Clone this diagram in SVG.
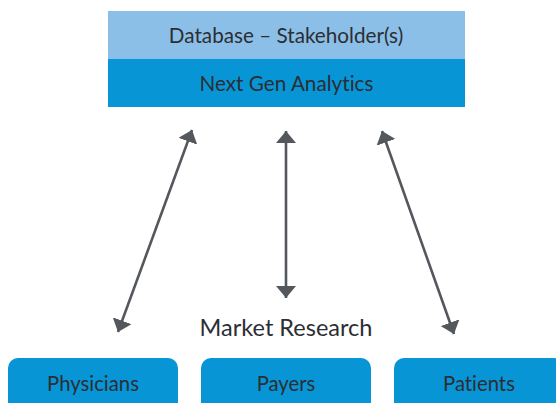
<svg xmlns="http://www.w3.org/2000/svg" width="556" height="403" viewBox="0 0 556 403">
  <style>
    .label { font-family: Lato, "Open Sans", "Liberation Sans", sans-serif; fill: #2b2e33; text-anchor: middle; font-variant-ligatures: none; font-feature-settings: "liga" 0, "clig" 0; }
    .head-light { fill: #8bbfe8; }
    .head-dark { fill: #0795d6; }
    .group-box { fill: #0795d6; }
    .link { stroke: #54585c; stroke-width: 2.6; fill: none; }
  </style>
  <defs>
    <marker id="arrow" viewBox="0 0 12 20" refX="12" refY="10" markerWidth="12" markerHeight="20" markerUnits="userSpaceOnUse" orient="auto-start-reverse">
      <path d="M0,0 L12,10 L0,20 Z" fill="#54585c"/>
    </marker>
  </defs>

  <rect width="556" height="403" fill="#ffffff"/>

  <!-- top stacked box -->
  <g id="database">
    <rect class="head-light" x="108" y="11" width="357" height="48"/>
    <text class="label" x="286" y="43" font-size="20.7">Database – Stakeholder(s)</text>
  </g>
  <g id="analytics">
    <rect class="head-dark" x="108" y="59" width="357" height="48"/>
    <text class="label" x="286.5" y="91" font-size="20.7">Next Gen Analytics</text>
  </g>

  <!-- two-way links -->
  <g id="connectors">
    <line class="link" x1="118" y1="332" x2="192" y2="130" marker-start="url(#arrow)" marker-end="url(#arrow)"/>
    <line class="link" x1="286" y1="298" x2="286" y2="131" marker-start="url(#arrow)" marker-end="url(#arrow)"/>
    <line class="link" x1="454" y1="334" x2="382" y2="131" marker-start="url(#arrow)" marker-end="url(#arrow)"/>
  </g>

  <g id="market-research">
    <text class="label" x="286" y="336" font-size="23.5">Market Research</text>
  </g>

  <!-- stakeholder boxes -->
  <g id="physicians">
    <rect class="group-box" x="8" y="358" width="170" height="56" rx="10"/>
    <text class="label" x="93" y="391" font-size="20.3">Physicians</text>
  </g>
  <g id="payers">
    <rect class="group-box" x="201" y="358" width="170" height="56" rx="10"/>
    <text class="label" x="286" y="391" font-size="20.3">Payers</text>
  </g>
  <g id="patients">
    <rect class="group-box" x="394" y="358" width="170" height="56" rx="10"/>
    <text class="label" x="479" y="391" font-size="20.3">Patients</text>
  </g>
</svg>
